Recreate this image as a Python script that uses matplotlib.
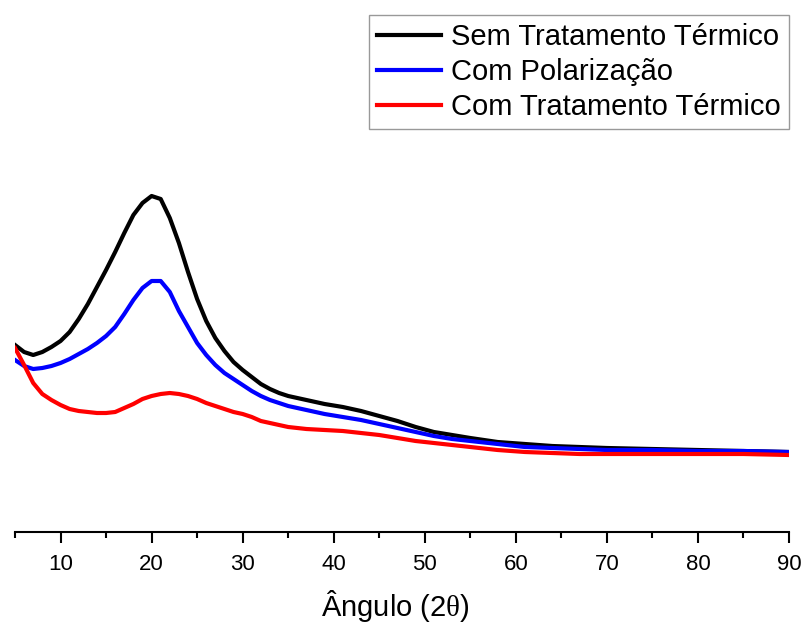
import matplotlib
matplotlib.use("Agg")
import matplotlib.pyplot as plt
from matplotlib.ticker import MultipleLocator

plt.rcParams['font.family'] = ['Liberation Sans', 'DejaVu Sans']
plt.rcParams['mathtext.fontset'] = 'custom'
plt.rcParams['mathtext.rm'] = 'Liberation Serif'

# 2-theta angle (degrees)
angle = [5, 6, 7, 8, 9, 10, 11, 12, 13, 14, 15, 16, 17, 18, 19, 20, 21, 22, 23, 24,
         25, 26, 27, 28, 29, 30, 31, 32, 33, 34, 35,
         37, 39, 41, 43, 45, 47, 49, 51, 53, 55,
         58, 61, 64, 67, 70, 75, 80, 85, 90]

# Intensities (arbitrary units)
sem_tratamento = [187, 180, 177, 180, 185, 191, 200, 213, 228, 245, 262, 280, 299, 317, 329, 336, 333, 314, 289, 260,
                  233, 211, 194, 181, 170, 162, 155, 148, 143, 139, 136,
                  132, 128, 125, 121, 116, 111, 105, 100, 97, 94,
                  90, 88, 86, 85, 84, 83, 82, 81, 80]

com_polarizacao = [172, 166, 163, 164, 166, 169, 173, 178, 183, 189, 196, 205, 218, 232, 244, 251, 251, 240, 221, 205,
                   189, 177, 167, 159, 153, 147, 141, 136, 132, 129, 126,
                   122, 118, 115, 112, 108, 104, 100, 96, 93, 91,
                   88, 85, 84, 83, 82, 82, 81, 81, 80]

com_tratamento = [184, 167, 149, 138, 132, 127, 123, 121, 120, 119, 119, 120, 124, 128, 133, 136, 138, 139, 138, 136,
                  133, 129, 126, 123, 120, 118, 115, 111, 109, 107, 105,
                  103, 102, 101, 99, 97, 94, 91, 89, 87, 85,
                  82, 80, 79, 78, 78, 78, 78, 78, 77]

labels = ['Sem Tratamento Térmico', 'Com Polarização', 'Com Tratamento Térmico']
colors = ['#000000', '#0000ff', '#ff0000']

W, H = 803, 623
fig = plt.figure(figsize=(W / 100, H / 100), dpi=100)
ax = fig.add_axes([15 / W, (H - 532) / H, (789 - 15) / W, 532 / H])

for y, lab, c in zip([sem_tratamento, com_polarizacao, com_tratamento], labels, colors):
    ax.plot(angle, y, color=c, lw=3, label=lab, solid_joinstyle='round')

ax.set_xlim(5, 90)
ax.set_ylim(0, 532)
ax.xaxis.set_major_locator(MultipleLocator(10))
ax.xaxis.set_minor_locator(MultipleLocator(5))
for s in ['left', 'right', 'top']:
    ax.spines[s].set_visible(False)
ax.spines['bottom'].set_linewidth(1.5)
ax.set_yticks([])
ax.tick_params(axis='x', which='major', direction='out', length=8, width=1.5, labelsize=16, pad=8)
ax.tick_params(axis='x', which='minor', direction='out', length=4.5, width=1.5)
ax.set_xlabel(r'Ângulo (2$\mathrm{\theta}$)', fontsize=21, labelpad=9)
ax.xaxis.set_label_coords((395 - 15) / 774, -0.105)

leg = ax.legend(loc='upper right', bbox_to_anchor=(789 / W, 1 - 15 / H), bbox_transform=fig.transFigure,
                fontsize=21, frameon=True, fancybox=False, borderaxespad=0, borderpad=0.28,
                handlelength=2.2, handletextpad=0.35, labelspacing=0.24)
leg.get_frame().set_edgecolor('#808080')
leg.get_frame().set_linewidth(1.0)
for line in leg.get_lines():
    line.set_linewidth(3)

fig.savefig('out.png', dpi=100)
